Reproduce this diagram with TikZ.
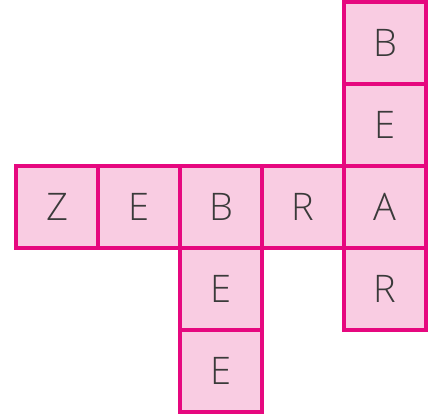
\documentclass[tikz,border=0pt]{standalone}
\usepackage{fontspec}
\setmainfont{Open Sans Light}
\usetikzlibrary{positioning}
\definecolor{cellline}{HTML}{E6087F}
\definecolor{cellfill}{HTML}{F9CCE2}
\definecolor{letter}{HTML}{3A3A3A}

\begin{document}
\begin{tikzpicture}[
    x=1pt, y=1pt,
    node distance=0pt,
    cell/.style={
        draw=cellline,
        fill=cellfill,
        line width=4pt,
        minimum size=82pt,
        inner sep=0pt,
        outer sep=0pt,
        text=letter,
        font=\fontsize{38}{40}\selectfont
    }
]
\useasboundingbox (0,0) rectangle (433,-416);
% across: ZEBRA
\node[cell] (z) at (57,-207) {Z};
\node[cell, right=of z] (e1) {E};
\node[cell, right=of e1] (b1) {B};
\node[cell, right=of b1] (r1) {R};
\node[cell, right=of r1] (a) {A};
% down: BEAR
\node[cell, above=of a] (e2) {E};
\node[cell, above=of e2] (b2) {B};
\node[cell, below=of a] (r2) {R};
% down: BEE
\node[cell, below=of b1] (e3) {E};
\node[cell, below=of e3] (e4) {E};
\end{tikzpicture}
\end{document}
